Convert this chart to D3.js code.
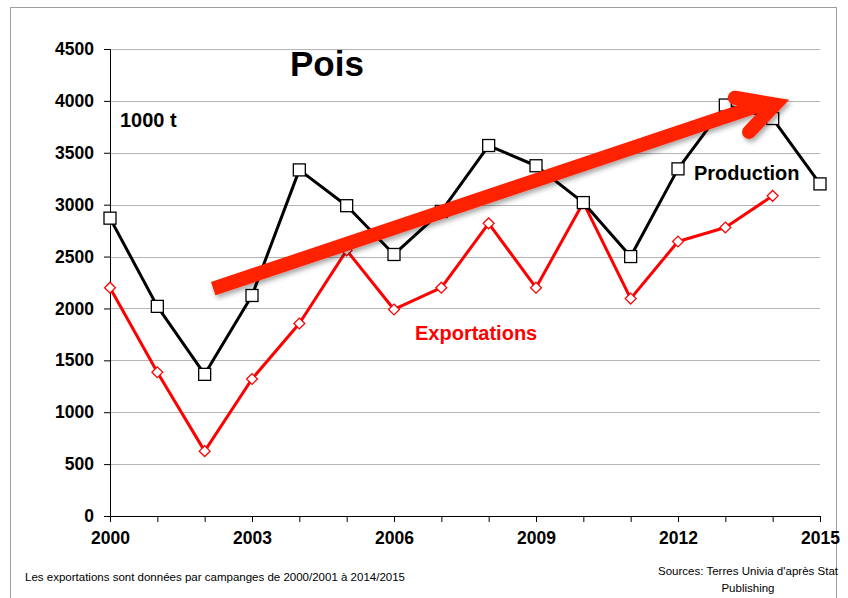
<!DOCTYPE html>
<html>
<head>
<meta charset="utf-8">
<title>Pois</title>
<script src="https://cdn.jsdelivr.net/npm/d3@7/dist/d3.min.js"></script>
<style>
body { margin: 0; background: #fff; }
svg text { font-family: "Liberation Sans", Arial, sans-serif; }
</style>
</head>
<body>
<script>
// values (1000 t)
var years = d3.range(2000, 2016);
var production = [2870, 2020, 1365, 2125, 3335, 2990, 2520, 2935, 3570, 3375, 3020, 2500, 3345, 3960, 3830, 3200];
var exportYears = d3.range(2000, 2015);
var exportations = [2200, 1385, 625, 1320, 1855, 2560, 1990, 2200, 2820, 2200, 3020, 2095, 2645, 2780, 3085];
var yTicks = [0, 500, 1000, 1500, 2000, 2500, 3000, 3500, 4000, 4500];
var xTickLabels = [2000, 2003, 2006, 2009, 2012, 2015];
// trend arrow, in data units
var arrowShaft = [[2002.18, 2190], [2013.9, 3985]];
var arrowHead = [[2013.2, 4030], [2014.05, 3965], [2013.5, 3700]];

var W = 848, H = 598;
var svg = d3.select("body").append("svg")
    .attr("width", W).attr("height", H);

var defs = svg.append("defs");
var f = defs.append("filter").attr("id", "shadow")
    .attr("x", "-10%").attr("y", "-30%").attr("width", "130%").attr("height", "160%");
f.append("feDropShadow").attr("dx", 2).attr("dy", 3).attr("stdDeviation", 2.5)
    .attr("flood-color", "#000").attr("flood-opacity", 0.35);

// frame
svg.append("rect").attr("x", 10.5).attr("y", 7.5).attr("width", 826).attr("height", 600)
    .attr("fill", "none").attr("stroke", "#a0a0a0").attr("stroke-width", 1);

var x = d3.scaleLinear().domain([2000, 2015]).range([110, 820]);
var y = d3.scaleLinear().domain([0, 4500]).range([516, 49]);

// gridlines
svg.append("g").selectAll("line").data(yTicks.slice(1)).enter().append("line")
    .attr("x1", x(2000)).attr("x2", x(2015))
    .attr("y1", function(d) { return Math.round(y(d)) + 0.5; })
    .attr("y2", function(d) { return Math.round(y(d)) + 0.5; })
    .attr("stroke", "#b4b4b4").attr("stroke-width", 1);

// y axis
var yAxis = svg.append("g").attr("transform", "translate(" + x(2000) + ",0)")
    .call(d3.axisLeft(y).tickValues(yTicks).tickSize(6).tickPadding(10).tickFormat(d3.format("d")));
yAxis.select(".domain").attr("stroke", "#000");
yAxis.selectAll("text").attr("font-size", "17.5px").attr("font-weight", "bold").attr("fill", "#000")
    .attr("font-family", "'Liberation Sans', Arial, sans-serif");

// x axis
var xAxis = svg.append("g").attr("transform", "translate(0," + y(0) + ")")
    .call(d3.axisBottom(x).tickValues(years).tickSize(6).tickPadding(10)
        .tickFormat(function(d) { return xTickLabels.indexOf(d) >= 0 ? d : ""; }));
xAxis.select(".domain").attr("stroke", "#000");
xAxis.selectAll("text").attr("font-size", "17.5px").attr("font-weight", "bold").attr("fill", "#000")
    .attr("font-family", "'Liberation Sans', Arial, sans-serif");

var line = d3.line().x(function(d) { return x(d[0]); }).y(function(d) { return y(d[1]); });

// exportations
var expData = exportYears.map(function(d, i) { return [d, exportations[i]]; });
svg.append("path").datum(expData).attr("d", line)
    .attr("fill", "none").attr("stroke", "#ff0000").attr("stroke-width", 3).attr("stroke-linejoin", "round");
svg.append("g").selectAll("path").data(expData).enter().append("path")
    .attr("d", d3.symbol().type(d3.symbolDiamond2).size(75))
    .attr("transform", function(d) { return "translate(" + x(d[0]) + "," + y(d[1]) + ")"; })
    .attr("fill", "#fff").attr("stroke", "#ff0000").attr("stroke-width", 1.3);

// production
var prodData = years.map(function(d, i) { return [d, production[i]]; });
svg.append("path").datum(prodData).attr("d", line)
    .attr("fill", "none").attr("stroke", "#000").attr("stroke-width", 3).attr("stroke-linejoin", "round");
svg.append("g").selectAll("rect").data(prodData).enter().append("rect")
    .attr("x", function(d) { return x(d[0]) - 6; })
    .attr("y", function(d) { return y(d[1]) - 6; })
    .attr("width", 12).attr("height", 12)
    .attr("fill", "#fff").attr("stroke", "#000").attr("stroke-width", 1.3);

// trend arrow
var arrow = svg.append("g").attr("filter", "url(#shadow)");
arrow.append("path").attr("d", line(arrowShaft))
    .attr("fill", "none").attr("stroke", "#ff2200").attr("stroke-width", 14).attr("stroke-linecap", "butt");
arrow.append("path").attr("d", line(arrowHead))
    .attr("fill", "none").attr("stroke", "#ff2200").attr("stroke-width", 14)
    .attr("stroke-linecap", "round").attr("stroke-linejoin", "miter").attr("stroke-miterlimit", 10);

// labels
svg.append("text").attr("x", 290).attr("y", 76).attr("font-size", "35px").attr("font-weight", "bold")
    .text("Pois");
svg.append("text").attr("x", 120).attr("y", 127).attr("font-size", "20px").attr("font-weight", "bold")
    .text("1000 t");
svg.append("text").attr("x", 694).attr("y", 180).attr("font-size", "20px").attr("font-weight", "bold")
    .text("Production");
svg.append("text").attr("x", 415).attr("y", 340).attr("font-size", "20px").attr("font-weight", "bold")
    .attr("fill", "#ff0000").text("Exportations");

// footnotes
svg.append("text").attr("x", 25).attr("y", 581).attr("font-size", "11.5px")
    .attr("textLength", 380).attr("lengthAdjust", "spacingAndGlyphs")
    .text("Les exportations sont données par campanges de 2000/2001 à 2014/2015");
svg.append("text").attr("x", 748).attr("y", 575).attr("font-size", "11.5px").attr("text-anchor", "middle")
    .attr("textLength", 180).attr("lengthAdjust", "spacingAndGlyphs")
    .text("Sources: Terres Univia d'après Stat");
svg.append("text").attr("x", 748).attr("y", 592).attr("font-size", "11.5px").attr("text-anchor", "middle")
    .text("Publishing");
</script>
</body>
</html>
